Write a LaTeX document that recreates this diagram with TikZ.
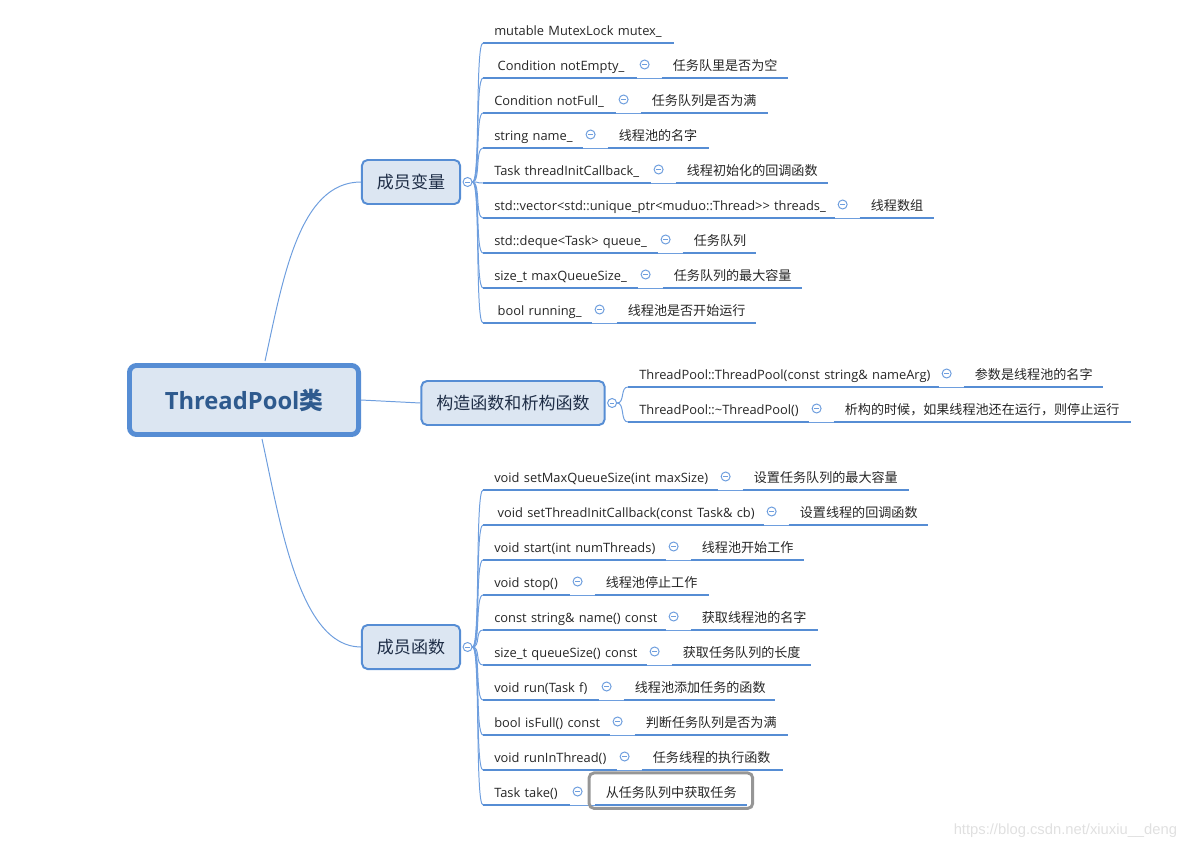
\documentclass[tikz,border=0pt]{standalone}
\usepackage{fontspec}
\setmainfont{Open Sans}
\newfontfamily\cjk{Noto Sans CJK SC}
\newfontfamily\wmfont{Liberation Sans}
\usetikzlibrary{fit}
\definecolor{mapblue}{RGB}{86,141,212}
\definecolor{linkblue}{RGB}{110,158,222}
\definecolor{boxfill}{RGB}{220,230,242}
\definecolor{roottext}{RGB}{46,90,142}
\definecolor{branchtext}{RGB}{30,45,70}
\definecolor{selgray}{RGB}{150,150,150}
\tikzset{
  rootbox/.style   = {draw=mapblue,fill=boxfill,line width=3.5pt,rounded corners=5pt,
                      minimum width=162.9pt,minimum height=49.1pt,text=roottext,
                      font=\fontsize{16.9}{20}\selectfont\bfseries},
  branchbox/.style = {draw=mapblue,fill=boxfill,line width=1.4pt,rounded corners=4pt,
                      inner xsep=10.7pt,minimum height=31.3pt,text=branchtext,
                      font=\cjk\fontsize{12.1}{14}\selectfont},
  leaf/.style      = {anchor=south west,inner xsep=7.8pt,inner ysep=5pt,text height=8pt,
                      text depth=0pt,align=left,text=black!85,font=\fontsize{9.15}{11}\selectfont},
  note/.style      = {leaf,font=\cjk\fontsize{9.3}{11}\selectfont},
  uline/.style     = {mapblue,line width=2.1pt},
  link/.style      = {linkblue,line width=0.7pt},
  knob/.style      = {circle,draw=linkblue,fill=white,line width=0.7pt,minimum size=6.4pt,inner sep=0pt,
                      path picture={\draw[linkblue,line width=0.6pt]
                        ([xshift=1.6pt]path picture bounding box.west) -- ([xshift=-1.6pt]path picture bounding box.east);}},
  selbox/.style    = {draw=selgray,line width=2.1pt,rounded corners=3.5pt,inner xsep=3.9pt,inner ysep=3.4pt},
  wmark/.style     = {font=\wmfont\fontsize{10.5}{12}\selectfont,text=black!12}
}
\newcommand{\pxpt}{0.71131}
% #1 knob, #2 name, #3 start x, #4 underline y, #5 end x, #6 text
\newcommand{\leafrow}[6]{%
  \pgfmathsetmacro\lw{(#5-#3)*\pxpt-15.6}
  \node[leaf,text width=\lw pt] (#2) at (#3,#4) {\mbox{#6}};
  \draw[uline] (#2.south west) -- (#2.south east);
  \draw[link] (#1.east) .. controls +(8,0) and +(-8,0) .. (#2.south west);
}
% same, plus a note: #7 note end x, #8 note text
\newcommand{\noterow}[8]{%
  \leafrow{#1}{#2}{#3}{#4}{#5}{#6}
  \pgfmathsetmacro\nw{(#7-#5-25)*\pxpt-15.6}
  \node[knob] (#2k) at ([shift={(8,-13.5)}]#2.south east) {};
  \node[note,text width=\nw pt] (#2n) at ([shift={(25,0)}]#2.south east) {\mbox{#8}};
  \draw[link] (#2.south east) -- (#2n.south west);
  \draw[uline] (#2n.south west) -- (#2n.south east);
}

\begin{document}
\begin{tikzpicture}[x=0.025cm,y=-0.025cm]
  \useasboundingbox (0,0) rectangle (1189,849);
  \node[rootbox] (root) at (244,400) {\raisebox{-1.4pt}{ThreadPool{\cjk 类}}};
  \node[branchbox] (mv) at (411,182) {成员变量};
  \node[branchbox] (ctor) at (513,403) {构造函数和析构函数};
  \node[branchbox] (mf) at (411,647) {成员函数};
  \draw[link] ([shift={(21,-2)}]root.north) .. controls +(18,-82) and +(-62,0) .. (mv.west);
  \draw[link] (root.east) -- (ctor.west);
  \draw[link] ([shift={(18,2)}]root.south) .. controls +(18,82) and +(-62,0) .. (mf.west);
  \node[knob] (mvk) at ([shift={(6.5,0)}]mv.east) {};
  \node[knob] (ctork) at ([shift={(6.5,0)}]ctor.east) {};
  \node[knob] (mfk) at ([shift={(6.5,0)}]mf.east) {};

  % member variables
  \leafrow{mvk}{v1}{483}{43}{673}{mutable MutexLock mutex\_}
  \noterow{mvk}{v2}{483}{78}{636}{\hspace*{2.4pt}Condition notEmpty\_}{787}{任务队里是否为空}
  \noterow{mvk}{v3}{483}{113}{615}{Condition notFull\_}{767}{任务队列是否为满}
  \noterow{mvk}{v4}{483}{148}{582}{string name\_}{708}{线程池的名字}
  \noterow{mvk}{v5}{483}{183}{650}{Task threadInitCallback\_}{827}{线程初始化的回调函数}
  \noterow{mvk}{v6}{483}{218}{834}{std::vector<std::unique\_ptr<muduo::Thread>{}> threads\_}{933}{线程数组}
  \noterow{mvk}{v7}{483}{253}{657}{std::deque<Task> queue\_}{755}{任务队列}
  \noterow{mvk}{v8}{483}{288}{637}{size\_t maxQueueSize\_}{801}{任务队列的最大容量}
  \noterow{mvk}{v9}{483}{323}{591}{\hspace*{2.4pt}bool running\_}{755}{线程池是否开始运行}

  % constructor / destructor
  \noterow{ctork}{c1}{628}{387}{938}{ThreadPool::ThreadPool(const string\& nameArg)}{1102}{参数是线程池的名字}
  \noterow{ctork}{c2}{628}{422}{808}{ThreadPool::\textasciitilde ThreadPool()}{1130}{析构的时候，如果线程池还在运行，则停止运行}

  % member functions
  \noterow{mfk}{f1}{483}{490}{717}{void setMaxQueueSize(int maxSize)}{908}{设置任务队列的最大容量}
  \noterow{mfk}{f2}{483}{525}{763}{\hspace*{2.4pt}void setThreadInitCallback(const Task\& cb)}{927}{设置线程的回调函数}
  \noterow{mfk}{f3}{483}{560}{665}{void start(int numThreads)}{803}{线程池开始工作}
  \noterow{mfk}{f4}{483}{595}{569}{void stop()}{708}{线程池停止工作}
  \noterow{mfk}{f5}{483}{630}{665}{const string\& name() const}{817}{获取线程池的名字}
  \noterow{mfk}{f6}{483}{665}{646}{size\_t queueSize() const}{810}{获取任务队列的长度}
  \noterow{mfk}{f7}{483}{700}{598}{void run(Task f)}{774}{线程池添加任务的函数}
  \noterow{mfk}{f8}{483}{735}{609}{bool isFull() const}{787}{判断任务队列是否为满}
  \noterow{mfk}{f9}{483}{770}{616}{void runInThread()}{782}{任务线程的执行函数}
  \noterow{mfk}{f10}{483}{805}{569}{Task take()}{746}{从任务队列中获取任务}
  \node[selbox,fit=(f10n),yshift=1pt] (sel) {};

  \node[wmark,anchor=east] (wm) at (1182,831) {https://blog.csdn.net/xiuxiu\_\_deng};
\end{tikzpicture}
\end{document}
